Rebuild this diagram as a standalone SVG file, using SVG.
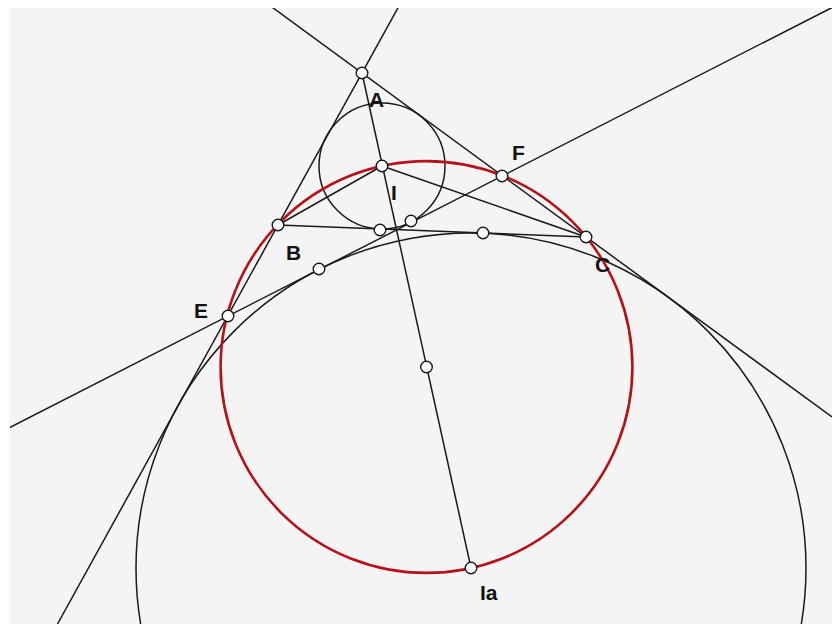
<svg xmlns="http://www.w3.org/2000/svg" width="832" height="624" viewBox="0 0 832 624">
  <defs>
    <clipPath id="panel"><rect x="10" y="8" width="822" height="616"/></clipPath>
    <style>
      .ln { stroke: #1a1a1a; stroke-width: 1.5; fill: none; }
      .red { stroke: #b5121b; stroke-width: 2.6; fill: none; }
      .pt { fill: #ffffff; stroke: #1a1a1a; stroke-width: 1.4; }
      .lbl { font-family: "Liberation Sans", Arial, sans-serif; font-size: 21px; font-weight: bold; fill: #111; }
    </style>
  </defs>
  <rect x="0" y="0" width="832" height="624" fill="#ffffff"/>
  <rect x="10" y="8" width="822" height="616" fill="#f4f4f4"/>
  <g id="connectors" clip-path="url(#panel)">
    <line class="ln" x1="402.3" y1="0" x2="57.5" y2="624"/>
    <line class="ln" x1="262.3" y1="0" x2="832" y2="417"/>
    <line class="ln" x1="-10" y1="437.6" x2="846" y2="0.4"/>
    <line class="ln" x1="362" y1="73" x2="471" y2="568"/>
    <line class="ln" x1="278" y1="225" x2="586" y2="237"/>
    <line class="ln" x1="278" y1="225" x2="382" y2="166"/>
    <line class="ln" x1="382" y1="166" x2="586" y2="237"/>
    <circle id="incircle" class="ln" cx="382" cy="166" r="63"/>
    <circle id="excircle" class="ln" cx="471" cy="568" r="335"/>
    <circle id="circle-BCIIa" class="red" cx="426.5" cy="367" r="205.9"/>
  </g>
  <g id="node-A"><circle class="pt" cx="362" cy="73" r="5.8"/><text class="lbl" x="369" y="107">A</text></g>
  <g id="node-I"><circle class="pt" cx="382" cy="166" r="5.8"/><text class="lbl" x="391" y="200">I</text></g>
  <g id="node-F"><circle class="pt" cx="502" cy="176" r="5.8"/><text class="lbl" x="512" y="160">F</text></g>
  <g id="node-B"><circle class="pt" cx="278" cy="225" r="5.8"/><text class="lbl" x="286" y="260">B</text></g>
  <g id="node-C"><circle class="pt" cx="586" cy="237" r="5.8"/><text class="lbl" x="595" y="272">C</text></g>
  <g id="node-E"><circle class="pt" cx="228" cy="316" r="5.8"/><text class="lbl" x="194" y="318">E</text></g>
  <g id="node-Ia"><circle class="pt" cx="471" cy="568" r="5.8"/><text class="lbl" x="480" y="600">Ia</text></g>
  <g id="node-M"><circle class="pt" cx="426.5" cy="367" r="5.8"/></g>
  <g id="node-T1"><circle class="pt" cx="380" cy="230" r="5.8"/></g>
  <g id="node-T2"><circle class="pt" cx="411" cy="221" r="5.8"/></g>
  <g id="node-T3"><circle class="pt" cx="483" cy="233" r="5.8"/></g>
  <g id="node-T4"><circle class="pt" cx="319" cy="269" r="5.8"/></g>
</svg>
